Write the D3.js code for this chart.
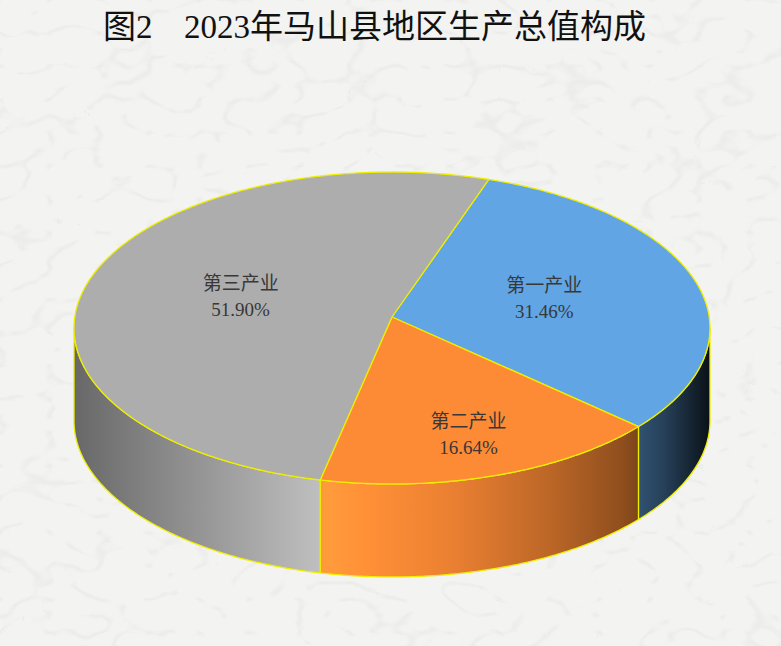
<!DOCTYPE html>
<html><head><meta charset="utf-8">
<script src="https://cdn.jsdelivr.net/npm/d3@7"></script>
<style>
html,body{margin:0;padding:0;background:#f3f3f1;}
svg{display:block;}
</style></head>
<body>
<svg id="chart" width="781" height="646"></svg>
<script>
// ---- data ----
const categories = ["第一产业", "第二产业", "第三产业"];
const values = [31.46, 16.64, 51.90];
const topColors = ["#62a5e4", "#fd8a35", "#adadad"];
const titleLead = "图2";
const titleMain = "2023年马山县地区生产总值构成";

// ---- layout ----
const W = 781, H = 646;
const cx = 392, cy = 317;          // projected pie centre
const A = 155.2, B = 317.2, k = 0.0705; // tilt / perspective
const depth = 93;
const startDeg = 19;
const edge = "#eeee00";

const svg = d3.select("#chart");
svg.append("rect").attr("width", W).attr("height", H).attr("fill", "#f3f3f1");

// faint paper texture
const defs = svg.append("defs");
const f = defs.append("filter").attr("id", "paper").attr("x", 0).attr("y", 0).attr("width", "100%").attr("height", "100%");
f.append("feTurbulence").attr("type", "turbulence").attr("baseFrequency", "0.02 0.03").attr("numOctaves", 2).attr("seed", 11).attr("result", "n");
f.append("feColorMatrix").attr("in", "n").attr("type", "matrix")
  .attr("values", "0 0 0 0 0.5  0 0 0 0 0.5  0 0 0 0 0.5  -9 0 0 0 1.2");
svg.append("rect").attr("width", W).attr("height", H).attr("filter", "url(#paper)").attr("opacity", 0.12);

function pt(theta, h) {
  const c = Math.cos(theta), s = Math.sin(theta), w = 1 + k * c;
  return [cx + B * s / w, cy - A * c / w + (h || 0)];
}
function pts(a0, a1, h) {
  const n = Math.max(2, Math.ceil(Math.abs(a1 - a0) / 0.01));
  const out = [];
  for (let i = 0; i <= n; i++) out.push(pt(a0 + (a1 - a0) * i / n, h));
  return out;
}

const pie = d3.pie().sort(null).value(d => d)
  .startAngle(startDeg * Math.PI / 180).endAngle(startDeg * Math.PI / 180 + 2 * Math.PI);
const arcs = pie(values);

const silA = Math.acos(-k), silB = 2 * Math.PI - Math.acos(-k);
const xScale = d3.scaleLinear().domain([0, 1]).range([cx - 318, cx + 318]);

// brightness profile across the side wall
const light = [[0, 0.6], [0.15, 0.8], [0.4, 1.12], [0.46, 1.04], [0.6, 0.92], [0.75, 0.74], [0.86, 0.57], [0.93, 0.38], [1, 0.1]];
function shade(col, fct) {
  const c = d3.rgb(col);
  return d3.rgb(Math.min(255, c.r * fct), Math.min(255, c.g * fct), Math.min(255, c.b * fct)).formatHex();
}

const line = d3.line();
const sideG = svg.append("g");
arcs.forEach((a, i) => {
  const g = defs.append("linearGradient").attr("id", "side" + i)
    .attr("gradientUnits", "userSpaceOnUse")
    .attr("x1", xScale(0)).attr("x2", xScale(1)).attr("y1", 0).attr("y2", 0);
  light.forEach(([t, fct]) => g.append("stop").attr("offset", t).attr("stop-color", shade(topColors[i], fct)));
  for (const off of [0, 2 * Math.PI, -2 * Math.PI]) {
    const s0 = Math.max(a.startAngle + off, silA), s1 = Math.min(a.endAngle + off, silB);
    if (s1 > s0) {
      const p = pts(s0, s1, 0).concat(pts(s1, s0, depth));
      sideG.append("path").attr("d", line(p) + "Z")
        .attr("fill", "url(#side" + i + ")").attr("stroke", edge).attr("stroke-width", 1.3)
        .attr("stroke-linejoin", "round");
    }
  }
});

const topG = svg.append("g");
arcs.forEach((a, i) => {
  const p = [[cx, cy]].concat(pts(a.startAngle, a.endAngle, 0));
  topG.append("path").attr("d", line(p) + "Z")
    .attr("fill", topColors[i]).attr("stroke", edge).attr("stroke-width", 1.3)
    .attr("stroke-linejoin", "round");
});

// labels
const font = "'Liberation Serif','Noto Sans CJK SC',serif";
const lab = svg.append("g").attr("font-family", font).attr("font-size", 19)
  .attr("fill", "#383838").attr("text-anchor", "middle");
arcs.forEach((a, i) => {
  const frac = a.value / d3.sum(values);
  const r = frac < 0.2 ? 0.75 : 0.5;
  const mid = (a.startAngle + a.endAngle) / 2;
  const c = Math.cos(mid) * r, s = Math.sin(mid) * r, w = 1 + k * c;
  const x = cx + B * s / w, y = cy - A * c / w;
  lab.append("text").attr("x", x).attr("y", y - 6).text(categories[i]);
  lab.append("text").attr("x", x).attr("y", y + 20).text(d3.format(".2f")(a.value) + "%");
});

// title
const tg = svg.append("g").attr("font-family", font).attr("font-size", 33).attr("fill", "#111");
tg.append("text").attr("x", 103).attr("y", 38).text(titleLead);
tg.append("text").attr("x", 184).attr("y", 38).text(titleMain);
</script>
</body></html>
